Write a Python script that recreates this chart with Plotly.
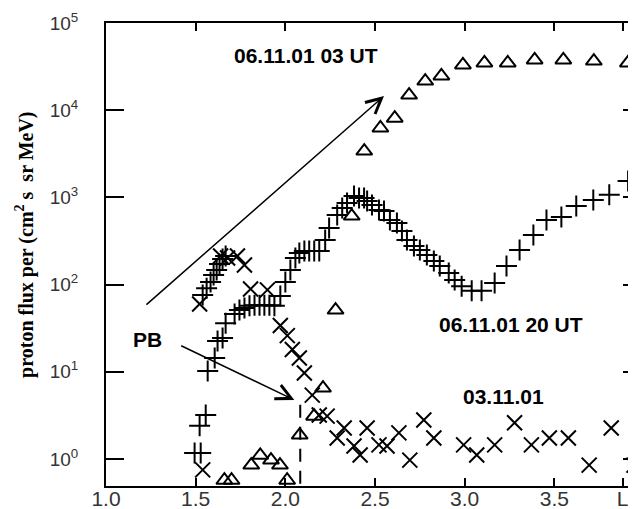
import plotly.graph_objects as go

# 06.11.01 03 UT (triangles)
tri_L = [2.44, 2.53, 2.61, 2.69, 2.78, 2.87, 2.99, 3.11, 3.24, 3.39, 3.55, 3.72, 3.91,
         2.37, 2.28, 2.21, 2.16, 2.08, 1.81, 1.86, 1.92, 1.97, 2.01, 1.66, 1.70]
tri_flux = [3400, 6250, 8100, 14900, 21600, 24700, 33000, 34800, 34800, 37700, 37700, 36600, 34800,
            610, 51, 6.5, 3.1, 1.88, 0.85, 1.1, 0.97, 0.85, 0.57, 0.57, 0.57]

# 06.11.01 20 UT (pluses)
plus_L = [1.494, 1.528, 1.522, 1.556, 1.567, 1.606, 1.622, 1.650, 1.667, 1.717, 1.744, 1.772,
          1.800, 1.828, 1.856, 1.883, 1.911, 1.939, 1.972, 2.000, 2.028, 2.056, 2.078, 2.106,
          2.133, 2.161, 2.189, 2.222, 2.244, 2.289, 2.317, 2.344, 2.383, 2.411, 2.439, 2.456,
          2.483, 2.522, 2.550, 2.583, 2.622, 2.650, 2.678, 2.717, 2.750, 2.789, 2.828, 2.861,
          2.911, 2.944, 2.983, 3.039, 3.094, 3.167, 3.233, 3.306, 3.383, 3.456, 3.539, 3.622,
          3.717, 3.806, 3.911, 3.972,
          1.539, 1.561, 1.583, 1.600, 1.617, 1.633, 1.650, 1.667]
plus_flux = [1.17, 1.17, 2.4, 3.2, 10.2, 14.4, 22.6, 24.4, 36, 46, 51, 54,
             57, 58, 58, 58, 58, 57, 74, 107, 147, 202, 230, 243,
             243, 243, 243, 325, 446, 629, 756, 862, 1040, 985, 985, 910,
             818, 717, 698, 550, 509, 412, 325, 277, 249, 218, 187, 163,
             136, 113, 96, 85, 85, 104, 163, 249, 371, 550, 596, 797,
             934, 1070, 1540, 1760,
             76, 91, 107, 129, 147, 172, 197, 213]

# 03.11.01 (crosses)
x_L = [1.539, 1.522, 1.639, 1.678, 1.733, 1.772, 1.806, 1.900, 1.972, 2.011, 2.039, 2.078,
       2.106, 2.150, 2.189, 2.233, 2.289, 2.328, 2.383, 2.417, 2.456, 2.522, 2.567, 2.633,
       2.694, 2.772, 2.828, 2.994, 3.067, 3.167, 3.278, 3.372, 3.472, 3.578, 3.694, 3.817, 3.944]
x_flux = [0.75, 60, 213, 202, 213, 168, 89, 87, 34, 26, 18, 14.4,
          9.7, 5.4, 3.2, 3.1, 1.74, 2.27, 1.41, 1.11, 2.27, 1.45, 1.41, 1.99,
          0.97, 2.8, 1.74, 1.45, 1.11, 1.45, 2.6, 1.45, 1.74, 1.74, 0.85, 2.27, 0.85]

# plasmapause (PB) marker line
pb_L = [2.083, 2.083]
pb_flux = [4.2, 0.49]

x_ticks = [1.0, 1.5, 2.0, 2.5, 3.0, 3.5, 3.88]
x_ticktext = ["1.0", "1.5", "2.0", "2.5", "3.0", "3.5", "L"]
y_ticks = [1, 10, 100, 1000, 10000, 100000]
y_ticktext = ["10<sup>0</sup>", "10<sup>1</sup>", "10<sup>2</sup>", "10<sup>3</sup>",
              "10<sup>4</sup>", "10<sup>5</sup>"]

fig = go.Figure()
fig.add_trace(go.Scatter(x=pb_L, y=pb_flux, mode="lines",
                         line=dict(color="black", width=2, dash="13px,9px"), hoverinfo="skip"))
fig.add_trace(go.Scatter(x=tri_L, y=tri_flux, mode="markers", name="06.11.01 03 UT",
                         marker=dict(symbol="triangle-up-open", size=14, color="black",
                                     line=dict(width=2, color="black"))))
fig.add_trace(go.Scatter(x=plus_L, y=plus_flux, mode="markers", name="06.11.01 20 UT",
                         marker=dict(symbol="cross-thin-open", size=15, color="black",
                                     line=dict(width=2, color="black"))))
fig.add_trace(go.Scatter(x=x_L, y=x_flux, mode="markers", name="03.11.01",
                         marker=dict(symbol="x-thin-open", size=15, color="black",
                                     line=dict(width=2, color="black"))))

lab_font = dict(family="Liberation Sans", size=21, color="black")
annotations = [
    dict(x=2.117, y=4.622, text="<b>06.11.01 03 UT</b>", showarrow=False, font=lab_font),
    dict(x=3.256, y=1.537, text="<b>06.11.01 20 UT</b>", showarrow=False, font=lab_font),
    dict(x=3.217, y=0.722, text="<b>03.11.01</b>", showarrow=False, font=lab_font),
    dict(x=1.233, y=1.365, text="<b>PB</b>", showarrow=False, font=lab_font),
    dict(x=2.55, y=4.163, ax=1.217, ay=1.755, axref="x", ayref="y", text="",
         showarrow=True, arrowhead=5, arrowsize=2, arrowwidth=1.5, arrowcolor="black"),
    dict(x=2.05, y=0.677, ax=1.411, ay=1.307, axref="x", ayref="y", text="",
         showarrow=True, arrowhead=5, arrowsize=2, arrowwidth=1.5, arrowcolor="black"),
    dict(xref="paper", yref="paper", x=-0.152, y=0.52, xanchor="center", yanchor="middle",
         textangle=-90, borderpad=0,
         text="<b>proton flux per (cm<sup>2</sup> s \u00a0sr MeV)</b>", showarrow=False,
         font=dict(family="Liberation Serif", size=20, color="black")),
]

fig.update_layout(
    width=636, height=509,
    margin=dict(l=98, r=1, t=15, b=31),
    paper_bgcolor="white", plot_bgcolor="white",
    showlegend=False,
    annotations=annotations,
    xaxis=dict(range=[1.0, 3.983], tickvals=x_ticks, ticktext=x_ticktext,
               ticks="inside", ticklen=8, tickwidth=2, tickcolor="black",
               showline=True, linewidth=2, linecolor="black", mirror="ticks",
               showgrid=False, zeroline=False, ticklabelstandoff=-7,
               tickfont=dict(family="Liberation Sans", size=21, color="#333")),
    yaxis=dict(type="log", range=[-0.31, 5.0], tickvals=y_ticks, ticktext=y_ticktext,
               ticks="inside", ticklen=18, tickwidth=2, tickcolor="black",
               showline=True, linewidth=2, linecolor="black", mirror="ticks",
               showgrid=False, zeroline=False, ticklabelstandoff=22,
               tickfont=dict(family="Liberation Sans", size=19, color="#333")),
)

fig.write_html("out.html")
